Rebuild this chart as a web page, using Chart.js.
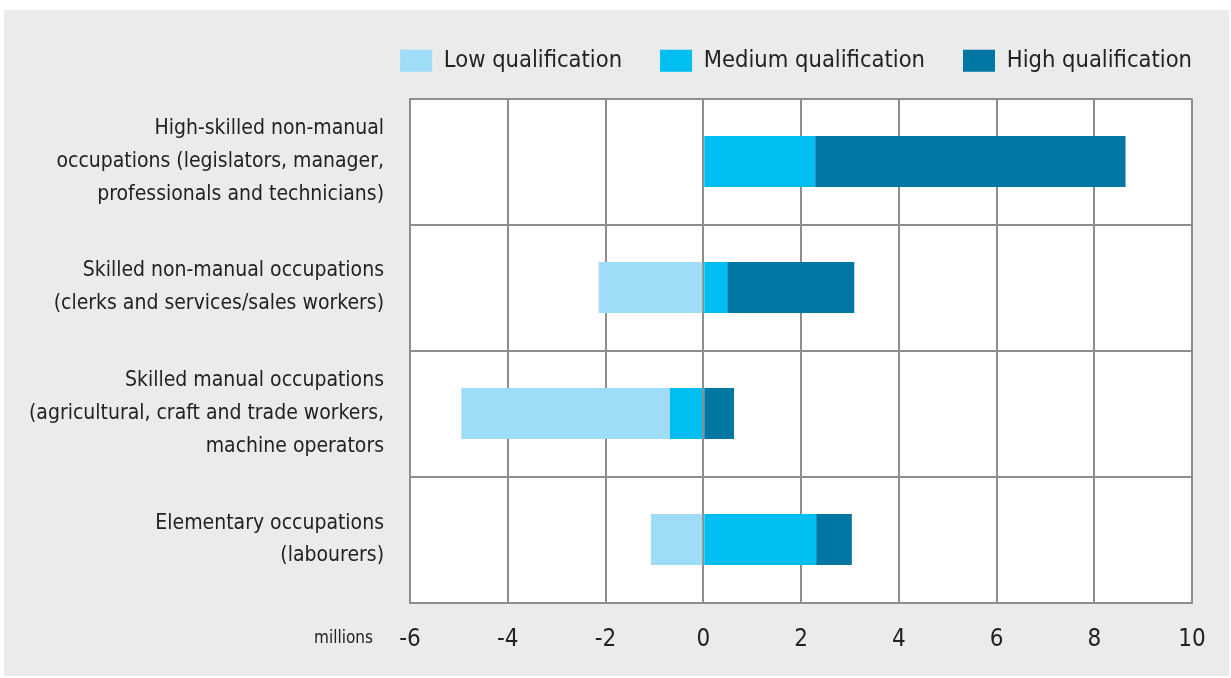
<!DOCTYPE html>
<html>
<head>
<meta charset="utf-8">
<script src="https://cdn.jsdelivr.net/npm/chart.js@4/dist/chart.umd.min.js"></script>
<style>
  html, body { margin: 0; padding: 0; background: #ffffff; }
  #wrap { position: absolute; left: 0; top: 0; width: 1231px; height: 678px; }
</style>
</head>
<body>
<div id="wrap"><canvas id="c" width="1231" height="678"></canvas></div>
<script>
// ---- data ----
const categories = [
  ["High-skilled non-manual", "occupations (legislators, manager,", "professionals and technicians)"],
  ["Skilled non-manual occupations", "(clerks and services/sales workers)"],
  ["Skilled manual occupations", "(agricultural, craft and trade workers,", "machine operators"],
  ["Elementary occupations", "(labourers)"]
];
const seriesNames = ["Low qualification", "Medium qualification", "High qualification"];
const lowValues    = [0, -2.14, -4.27, -1.07];
const mediumValues = [2.29, 0.49, -0.68, 2.31];
const highValues   = [6.35, 2.60, 0.63, 0.73];
const xTickValues  = [-6, -4, -2, 0, 2, 4, 6, 8, 10];
const unitLabel = "millions";

const FONT = "'DejaVu Sans Condensed', 'Liberation Sans Narrow', 'Liberation Sans', sans-serif";
const GRID = '#8e8e8e';

const panelPlugin = {
  id: 'panel',
  beforeDraw(chart) {
    const ctx = chart.ctx, a = chart.chartArea;
    ctx.save();
    ctx.fillStyle = '#ffffff';
    ctx.fillRect(0, 0, chart.width, chart.height);
    ctx.fillStyle = '#eaebeb';
    ctx.fillRect(4, 10, 1225, 666);
    ctx.fillStyle = '#ffffff';
    ctx.fillRect(a.left, a.top, a.right - a.left, a.bottom - a.top);
    ctx.restore();
  },
  afterLayout(chart) {
    const lg = chart.legend;
    const h = lg.height;
    lg.top = 11; lg.bottom = 11 + h;
    lg.right = 1230;
  },
  afterDraw(chart) {
    const ctx = chart.ctx, xs = chart.scales.x;
    ctx.save();
    ctx.font = '17px ' + FONT;
    ctx.fillStyle = '#222';
    ctx.textAlign = 'right';
    ctx.textBaseline = 'middle';
    ctx.fillText(unitLabel, 373, xs.top + 36);
    ctx.restore();
  }
};

new Chart(document.getElementById('c'), {
  type: 'bar',
  data: {
    labels: categories,
    datasets: [
      { label: seriesNames[1], data: mediumValues, backgroundColor: '#00bdf2', borderWidth: 0 },
      { label: seriesNames[0], data: lowValues,    backgroundColor: '#9fdcf7', borderWidth: 0 },
      { label: seriesNames[2], data: highValues,   backgroundColor: '#0076a3', borderWidth: 0 }
    ]
  },
  options: {
    indexAxis: 'y',
    responsive: false,
    animation: false,
    devicePixelRatio: 1,
    layout: { padding: { top: 27, right: 39, bottom: 0, left: 0 } },
    datasets: { bar: { barPercentage: 0.405, categoryPercentage: 1 } },
    plugins: {
      tooltip: { enabled: false },
      legend: {
        position: 'top',
        align: 'end',
        labels: {
          boxWidth: 32,
          boxHeight: 22,
          padding: 38,
          color: '#222',
          font: { family: FONT, size: 23.5 },
          sort: (a, b) => seriesNames.indexOf(a.text) - seriesNames.indexOf(b.text)
        }
      }
    },
    scales: {
      x: {
        stacked: true,
        min: -6, max: 10,
        afterBuildTicks: (s) => { s.ticks = xTickValues.map(v => ({ value: v })); },
        afterFit: (s) => { s.height = 75; },
        grid: { color: GRID, lineWidth: 2, drawTicks: false },
        border: { color: GRID, width: 2 },
        ticks: { color: '#222', padding: 23, font: { family: FONT, size: 24 } }
      },
      y: {
        stacked: true,
        afterFit: (s) => { s.width = 410; },
        grid: { color: GRID, lineWidth: 2, drawTicks: false },
        border: { color: GRID, width: 2 },
        ticks: { color: '#222', padding: 26, font: { family: FONT, size: 21, lineHeight: 1.57 } }
      }
    }
  },
  plugins: [panelPlugin]
});
</script>
</body>
</html>
